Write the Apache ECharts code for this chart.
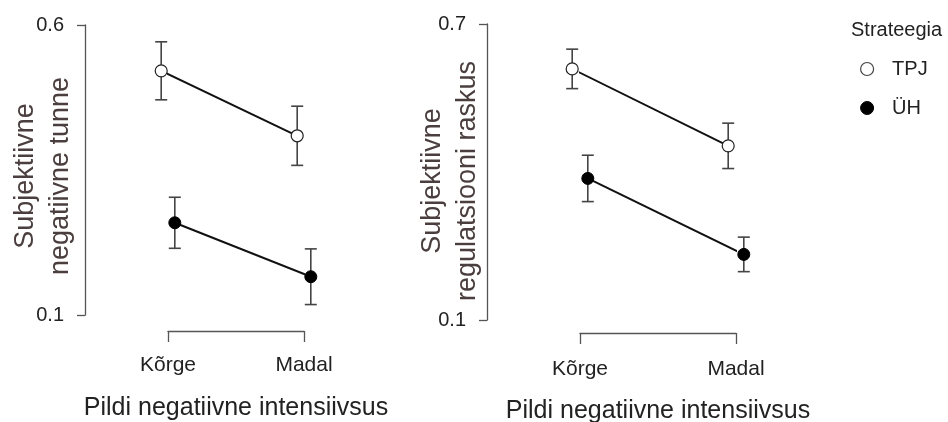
<!DOCTYPE html>
<html>
<head>
<meta charset="utf-8">
<script src="https://cdn.jsdelivr.net/npm/echarts@6/dist/echarts.min.js"></script>
<style>
  html, body { margin: 0; padding: 0; background: #fff; }
  #chart { width: 948px; height: 422px; }
</style>
</head>
<body>
<div id="chart"></div>
<script>
// ---- data ----
const categories = ['Kõrge', 'Madal'];
const strategies = ['TPJ', 'ÜH'];
const xTitle = 'Pildi negatiivne intensiivsus';
const yTitle1 = 'Subjektiivne\nnegatiivne tunne';
const yTitle2 = 'Subjektiivne\nregulatsiooni raskus';
const legendTitle = 'Strateegia';
const yTicks1 = [0.1, 0.6];
const yTicks2 = [0.1, 0.7];

// panel 1: subjective negative feeling (mean, half error bar)
const neg_TPJ_mean = [0.521, 0.409];
const neg_TPJ_err  = [0.050, 0.051];
const neg_UH_mean  = [0.259, 0.166];
const neg_UH_err   = [0.044, 0.048];
// panel 2: subjective regulation difficulty
const reg_TPJ_mean = [0.609, 0.453];
const reg_TPJ_err  = [0.040, 0.046];
const reg_UH_mean  = [0.387, 0.233];
const reg_UH_err   = [0.047, 0.035];

// ---- style ----
const FONT = "'Liberation Sans', Arial, sans-serif";
const DODGE = { 'TPJ': -0.05, 'ÜH': 0.05 };
const AXIS_COL = '#555';
const TEXT_COL = '#222';

function pts(means, strat) {
  return means.map((m, i) => [i + 1 + DODGE[strat], m]);
}
function errs(means, err, strat) {
  return means.map((m, i) => [i + 1 + DODGE[strat], m - err[i], m + err[i]]);
}
function errRender(params, api) {
  const x = api.value(0), lo = api.value(1), hi = api.value(2);
  const a = api.coord([x, lo]), b = api.coord([x, hi]);
  const hw = 6;
  const style = { stroke: '#444', lineWidth: 1.6, fill: null };
  return {
    type: 'group',
    children: [
      { type: 'line', shape: { x1: a[0], y1: a[1], x2: b[0], y2: b[1] }, style: style },
      { type: 'line', shape: { x1: a[0] - hw, y1: a[1], x2: a[0] + hw, y2: a[1] }, style: style },
      { type: 'line', shape: { x1: b[0] - hw, y1: b[1], x2: b[0] + hw, y2: b[1] }, style: style }
    ]
  };
}

function xAxisCfg(gi, offset, gap, margin) {
  return {
    type: 'value', gridIndex: gi, min: 1, max: 2, position: 'bottom', offset: offset,
    axisLine: { show: true, lineStyle: { color: AXIS_COL, width: 1.3 } },
    axisTick: { show: true, length: 11, customValues: [1, 2], lineStyle: { color: AXIS_COL, width: 1.3 } },
    axisLabel: { customValues: [1, 2], formatter: v => categories[Math.round(v) - 1],
                 color: TEXT_COL, fontSize: 21, fontFamily: FONT, margin: margin },
    splitLine: { show: false },
    name: xTitle, nameLocation: 'middle', nameGap: gap, nameMoveOverlap: false,
    nameTextStyle: { color: TEXT_COL, fontSize: 25, fontFamily: FONT }
  };
}
function yAxisCfg(gi, ticks, offset, title, gap, shift) {
  return {
    type: 'value', gridIndex: gi, min: ticks[0], max: ticks[1], position: 'left', offset: offset,
    axisLine: { show: true, lineStyle: { color: AXIS_COL, width: 1.3 } },
    axisTick: { show: true, length: 8, customValues: ticks, lineStyle: { color: AXIS_COL, width: 1.3 } },
    axisLabel: { customValues: ticks, formatter: v => v.toFixed(1),
                 color: TEXT_COL, fontSize: 20, fontFamily: FONT, margin: 21 },
    splitLine: { show: false },
    name: title, nameLocation: 'middle', nameGap: gap, nameRotate: 90, nameMoveOverlap: false,
    nameTextStyle: { color: '#4a3e3e', fontSize: 27, fontFamily: FONT, lineHeight: 35,
                     padding: [0, shift, 0, 0] }
  };
}

function lineSeries(name, data, xi, filled) {
  return {
    type: 'line', name: name, xAxisIndex: xi, yAxisIndex: xi, data: data,
    symbol: 'circle', symbolSize: 12, clip: false, z: 5,
    lineStyle: { color: '#111', width: 2 },
    itemStyle: filled ? { color: '#000', borderColor: '#000', borderWidth: 1 }
                      : { color: '#fff', borderColor: '#222', borderWidth: 1.2 },
    emphasis: { disabled: true }, silent: true
  };
}
function errSeries(data, xi) {
  return {
    type: 'custom', xAxisIndex: xi, yAxisIndex: xi, data: data, z: 2,
    renderItem: errRender, encode: { x: 0, y: [1, 2] }, silent: true, clip: false
  };
}

const option = {
  animation: false,
  textStyle: { fontFamily: FONT },
  title: {
    text: legendTitle, left: 851, top: 20, padding: 0,
    textStyle: { fontSize: 20, fontWeight: 'normal', color: TEXT_COL, fontFamily: FONT }
  },
  legend: {
    data: [
      { name: 'TPJ', itemStyle: { color: '#fff', borderColor: '#444', borderWidth: 1.2 } },
      { name: 'ÜH', itemStyle: { color: '#000', borderColor: '#000', borderWidth: 1 } }
    ],
    orient: 'vertical', left: 860, top: 59, padding: 0, itemGap: 19,
    icon: 'circle', itemWidth: 40, itemHeight: 13,
    textStyle: { fontSize: 20, color: TEXT_COL, fontFamily: FONT },
    selectedMode: false
  },
  grid: [
    { left: 168, width: 136, top: 25, height: 290, outerBoundsMode: 'none' },
    { left: 580, width: 156, top: 24, height: 296, outerBoundsMode: 'none' }
  ],
  xAxis: [xAxisCfg(0, 16, 65, 24), xAxisCfg(1, 13, 66, 26)],
  yAxis: [
    yAxisCfg(0, yTicks1, 83, yTitle1, 7, 12),
    yAxisCfg(1, yTicks2, 93, yTitle2, 2, 18)
  ],
  series: [
    errSeries(errs(neg_TPJ_mean, neg_TPJ_err, 'TPJ'), 0),
    errSeries(errs(neg_UH_mean, neg_UH_err, 'ÜH'), 0),
    errSeries(errs(reg_TPJ_mean, reg_TPJ_err, 'TPJ'), 1),
    errSeries(errs(reg_UH_mean, reg_UH_err, 'ÜH'), 1),
    lineSeries('TPJ', pts(neg_TPJ_mean, 'TPJ'), 0, false),
    lineSeries('ÜH', pts(neg_UH_mean, 'ÜH'), 0, true),
    lineSeries('TPJ', pts(reg_TPJ_mean, 'TPJ'), 1, false),
    lineSeries('ÜH', pts(reg_UH_mean, 'ÜH'), 1, true)
  ]
};

const chart = echarts.init(document.getElementById('chart'), null, { renderer: 'canvas' });
chart.setOption(option);
</script>
</body>
</html>
